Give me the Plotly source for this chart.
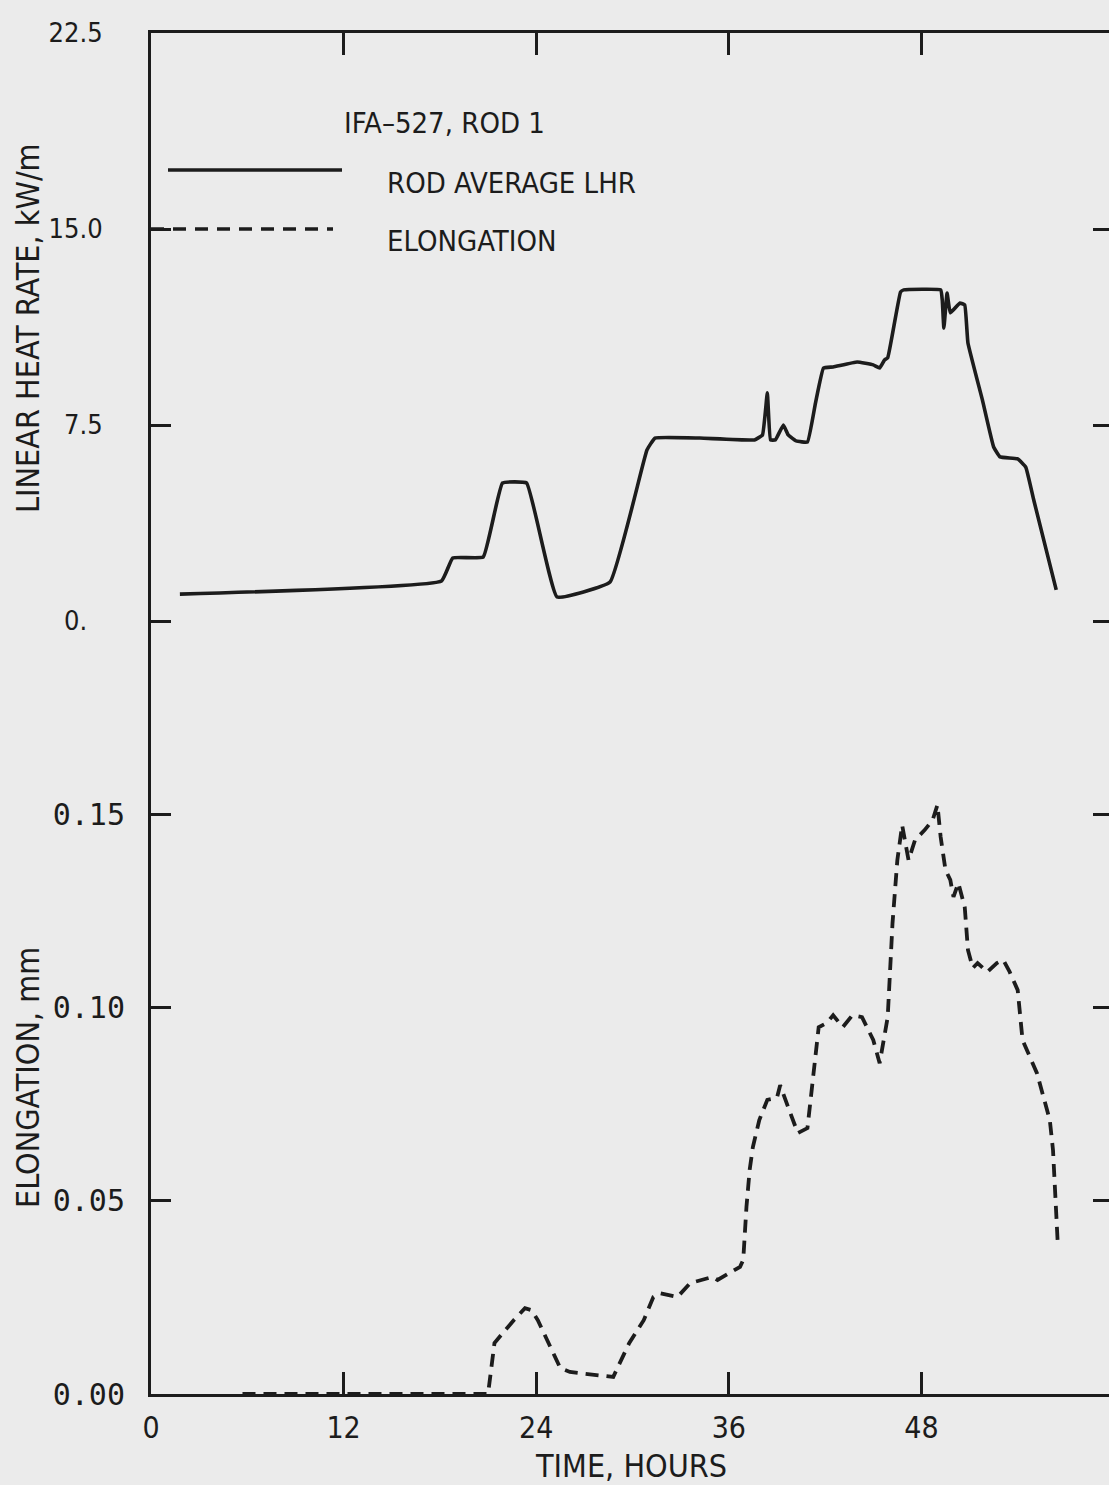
import plotly.graph_objects as go

# IFA-527, Rod 1: rod-average linear heat rate (kW/m) vs time (h)
lhr_time = [1.8, 18.1, 18.8, 20.7, 21.9, 23.4, 25.3, 28.6, 30.9, 31.4, 34.2,
            37.6, 38.1, 38.4, 38.6, 38.9, 39.4, 39.7, 40.2, 40.9, 41.4, 41.9,
            42.5, 44.0, 45.0, 45.4, 45.7, 45.9, 46.7, 46.9, 49.2, 49.3, 49.4,
            49.6, 49.8, 50.4, 50.7, 50.9, 51.8, 52.5, 52.9, 54.0, 54.5, 55.0,
            56.4]
lhr_value = [1.03, 1.53, 2.41, 2.45, 5.28, 5.28, 0.92, 1.49, 6.54, 7.00, 7.00,
             6.93, 7.12, 8.73, 6.93, 6.93, 7.50, 7.12, 6.89, 6.85, 8.34, 9.68,
             9.72, 9.91, 9.80, 9.68, 9.99, 10.07, 12.59, 12.67, 12.67, 12.28,
             11.21, 12.55, 11.79, 12.17, 12.09, 10.64, 8.46, 6.66, 6.28, 6.20,
             5.89, 4.63, 1.19]

# Measured rod elongation (mm) vs time (h)
elong_time = [5.7, 21.0, 21.4, 21.7, 22.6, 23.3, 23.7, 24.1, 24.9, 25.5, 26.1,
              28.8, 29.0, 29.8, 30.7, 31.3, 31.7, 32.8, 33.6, 34.4, 35.0, 35.3,
              36.1, 36.7, 36.9, 37.1, 37.3, 37.5, 37.9, 38.4, 39.0, 39.2, 39.6,
              40.3, 40.9, 41.2, 41.6, 42.1, 42.5, 43.1, 43.7, 44.3, 45.0, 45.4,
              45.9, 46.2, 46.5, 46.8, 47.2, 47.6, 48.2, 48.7, 49.0, 49.2, 49.5,
              49.8, 50.0, 50.3, 50.7, 50.9, 51.2, 51.5, 52.1, 52.7, 53.1, 53.5,
              54.0, 54.3, 55.2, 56.0, 56.2, 56.5]
elong_value = [0.0, 0.0, 0.0132, 0.0147, 0.0191, 0.0222, 0.0217, 0.0191, 0.0122,
               0.0067, 0.0057, 0.0044, 0.0062, 0.0132, 0.0191, 0.0251, 0.0261,
               0.0251, 0.0287, 0.0295, 0.0303, 0.0295, 0.0316, 0.0329, 0.0347,
               0.0484, 0.0580, 0.0639, 0.0709, 0.0761, 0.0766, 0.0799, 0.0753,
               0.0675, 0.0688, 0.0805, 0.0949, 0.0960, 0.0980, 0.0949, 0.0980,
               0.0975, 0.0916, 0.0856, 0.0975, 0.1218, 0.1381, 0.1472, 0.1381,
               0.1433, 0.1459, 0.1485, 0.1524, 0.1441, 0.1356, 0.1330, 0.1286,
               0.1322, 0.1260, 0.1149, 0.1102, 0.1115, 0.1092, 0.1115, 0.1123,
               0.1092, 0.1045, 0.0916, 0.0830, 0.0709, 0.0631, 0.0385]

time_ticks = [0, 12, 24, 36, 48]
time_tick_text = ["0", "12", "24", "36", "48"]
lhr_ticks = [0, 7.5, 15.0, 22.5]
lhr_tick_text = ["0.\u00a0\u00a0", "7.5", "15.0", "22.5"]
elong_ticks = [0.0, 0.05, 0.10, 0.15]
elong_tick_text = ["0.00", "0.05", "0.10", "0.15"]

INK = "#1c1c1c"
PAPER = "#ebebeb"
W, H = 1109, 1485
L, R, T, B = 151, 0, 33, 91
SPLIT = 621  # page row where the two stacked scales meet
LHR_PAD = 0.12  # small headroom below LHR zero so its tick mark is kept

SANS = "DejaVu Sans Condensed, Liberation Sans Narrow, Liberation Sans, sans-serif"

def px(xp):
    return (xp - L) / (W - L - R)

def py(yp):
    return (H - B - yp) / (H - T - B)

split_frac = py(SPLIT)
lhr_scale = (SPLIT - T) / 22.5                      # pixels per kW/m
lhr_bottom = py(SPLIT + LHR_PAD * lhr_scale)

fig = go.Figure()
fig.add_trace(go.Scatter(x=lhr_time, y=lhr_value, mode="lines",
                         line=dict(color=INK, width=3.6, shape="spline", smoothing=0.3),
                         xaxis="x2", yaxis="y2", showlegend=False, hoverinfo="skip"))
fig.add_trace(go.Scatter(x=elong_time, y=elong_value, mode="lines",
                         line=dict(color=INK, width=3.8, dash="13px,8px"),
                         xaxis="x", yaxis="y", showlegend=False, hoverinfo="skip"))
# carriers for the right-hand tick marks
fig.add_trace(go.Scatter(x=[], y=[], xaxis="x", yaxis="y3", showlegend=False))
fig.add_trace(go.Scatter(x=[], y=[], xaxis="x2", yaxis="y4", showlegend=False))

x_range = [0, (W - L - R) / 16.05]
lhr_range = [-LHR_PAD, 22.5]

fig.update_layout(
    width=W, height=H,
    margin=dict(l=L, r=R, t=T, b=B),
    paper_bgcolor=PAPER, plot_bgcolor=PAPER,
    showlegend=False,
    xaxis=dict(domain=[0, 1], range=x_range, anchor="y",
               showline=True, linewidth=3, linecolor=INK,
               ticks="inside", ticklen=22, tickwidth=3, tickcolor=INK,
               tickvals=time_ticks, ticktext=time_tick_text,
               tickfont=dict(family=SANS, size=30, color=INK), ticklabelstandoff=5,
               showgrid=False, zeroline=False),
    xaxis2=dict(domain=[0, 1], range=x_range, anchor="y2", matches="x",
                side="top", showline=True, linewidth=3, linecolor=INK,
                ticks="inside", ticklen=22, tickwidth=3, tickcolor=INK,
                tickvals=time_ticks[1:], showticklabels=False,
                showgrid=False, zeroline=False),
    yaxis=dict(domain=[0, split_frac], range=[0, 0.2], anchor="x",
               showline=True, linewidth=3, linecolor=INK,
               ticks="inside", ticklen=20, tickwidth=3, tickcolor=INK,
               tickvals=elong_ticks, ticktext=elong_tick_text,
               tickfont=dict(family="DejaVu Sans Mono, monospace", size=30, color=INK),
               ticklabelstandoff=17,
               showgrid=False, zeroline=False),
    yaxis2=dict(domain=[lhr_bottom, 1], range=lhr_range, anchor="x2",
                showline=True, linewidth=3, linecolor=INK,
                ticks="inside", ticklen=20, tickwidth=3, tickcolor=INK,
                tickvals=lhr_ticks, ticktext=lhr_tick_text,
                tickfont=dict(family=SANS, size=27, color=INK), ticklabelstandoff=40,
                showgrid=False, zeroline=False),
    yaxis3=dict(overlaying="y", side="right", anchor="x", range=[0, 0.2],
                showline=False, ticks="inside", ticklen=16, tickwidth=3,
                tickcolor=INK, tickvals=elong_ticks[1:], showticklabels=False,
                showgrid=False, zeroline=False),
    yaxis4=dict(overlaying="y2", side="right", anchor="x2", range=lhr_range,
                showline=False, ticks="inside", ticklen=16, tickwidth=3,
                tickcolor=INK, tickvals=lhr_ticks[:3], showticklabels=False,
                showgrid=False, zeroline=False),
)

label_font = dict(family=SANS, size=29, color=INK)
title_font = dict(family=SANS, size=32, color=INK)

# key: sample lines and captions
fig.add_shape(type="line", xref="paper", yref="paper",
              x0=px(168), x1=px(342), y0=py(170), y1=py(170),
              line=dict(color=INK, width=3.4))
fig.add_shape(type="line", xref="paper", yref="paper",
              x0=px(151), x1=px(333), y0=py(229), y1=py(229),
              line=dict(color=INK, width=3.4, dash="13px,9px"))

annotations = [
    dict(text="IFA\u2013527, ROD 1", x=px(342), y=py(123), xanchor="left",
         yanchor="middle", font=label_font),
    dict(text="ROD AVERAGE LHR", x=px(385), y=py(183), xanchor="left",
         yanchor="middle", font=label_font),
    dict(text="ELONGATION", x=px(385), y=py(241), xanchor="left",
         yanchor="middle", font=label_font),
    dict(text="TIME, HOURS", x=px(631), y=py(1466), xanchor="center",
         yanchor="middle", font=title_font),
    dict(text="LINEAR HEAT RATE, kW/m", x=px(28), y=py(328), xanchor="center",
         yanchor="middle", textangle=-90, font=title_font),
    dict(text="ELONGATION, mm", x=px(28), y=py(1078), xanchor="center",
         yanchor="middle", textangle=-90, font=title_font),
]
for a in annotations:
    fig.add_annotation(xref="paper", yref="paper", showarrow=False, **a)

fig.write_html("out.html")
